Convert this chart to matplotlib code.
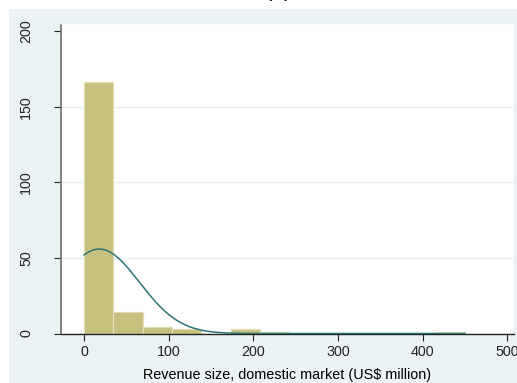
import numpy as np
import matplotlib
matplotlib.use("Agg")
import matplotlib.pyplot as plt
from matplotlib.patches import Rectangle

# histogram of revenue, 13 equal bins over 0-450
bin_edges = np.linspace(0, 450, 14)
counts = [166, 14, 4, 3, 0, 3, 1, 0, 0, 0, 0, 0, 1]

# normal overlay parameters (mean, sd) of revenue, US$ million
rev_mean = 18.0
rev_sd = 47.5

x_ticks = [0, 100, 200, 300, 400, 500]
y_ticks = [0, 50, 100, 150, 200]

bg = "#EAF2F3"
bar_fill = "#C8C07E"
bar_edge = "#E2DEB4"
line_col = "#2B7575"

plt.rcParams["font.family"] = ["Liberation Sans", "DejaVu Sans"]

fig = plt.figure(figsize=(5.17, 3.83), dpi=100, facecolor="white")
W, H = 517, 383
fig.patches.append(Rectangle((9 / W, 0), 1 - 9 / W, 1 - 9 / H,
                             transform=fig.transFigure, facecolor=bg,
                             edgecolor="none", zorder=-5))
fig.text(278 / W, 1 + 4 / H, "(a)", ha="center", va="baseline", fontsize=16)

ax = fig.add_axes([61 / W, 1 - 333.5 / H, (514 - 61) / W, (333.5 - 23) / H])
ax.set_facecolor("white")

widths = np.diff(bin_edges)
ax.bar(bin_edges[:-1], counts, width=widths, align="edge",
       color=bar_fill, edgecolor=bar_edge, linewidth=0.9, zorder=2)

# normal density scaled to frequency
n_obs = sum(counts)
xs = np.linspace(bin_edges[0], bin_edges[-1], 400)
dens = np.exp(-0.5 * ((xs - rev_mean) / rev_sd) ** 2) / (rev_sd * np.sqrt(2 * np.pi))
ax.plot(xs, dens * n_obs * widths[0], color=line_col, linewidth=1.1, zorder=3)

ax.set_xlim(-27.2, 507.9)
ax.set_ylim(0, 205.3)
ax.set_xticks(x_ticks)
ax.set_yticks(y_ticks)
ax.set_yticklabels([str(v) for v in y_ticks], rotation=90, va="center")

for v in [50, 100, 150]:
    ax.axhline(v, color=bg, linewidth=1.0, zorder=1)

for side in ["top", "right"]:
    ax.spines[side].set_color(bg)
    ax.spines[side].set_linewidth(1.0)
ax.spines["left"].set_color("#6E6E6E")
ax.spines["left"].set_linewidth(1.2)
ax.spines["left"].set_bounds(0, 204)
ax.spines["bottom"].set_color("#222222")
ax.spines["bottom"].set_linewidth(1.0)

ax.tick_params(axis="both", labelsize=10.3, colors="#222222", length=5, width=0.8)
ax.tick_params(axis="y", pad=15)
ax.tick_params(axis="x", pad=3)

ax.set_xlabel("Revenue size, domestic market (US$ million)", fontsize=10.4, labelpad=7)

fig.savefig("out.png", dpi=100, facecolor="white")
